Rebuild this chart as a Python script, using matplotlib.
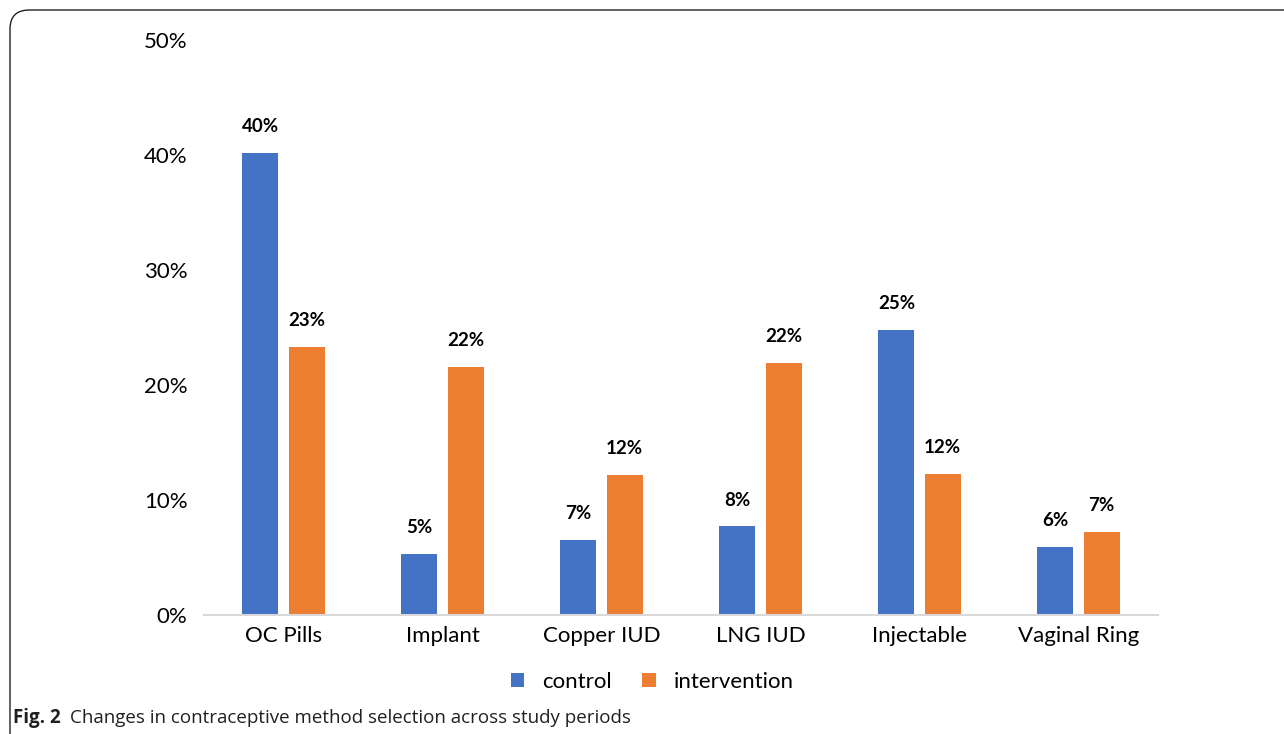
import numpy as np
import matplotlib.pyplot as plt
from matplotlib.patches import FancyBboxPatch

# data (percent)
methods = ['OC Pills', 'Implant', 'Copper IUD', 'LNG IUD', 'Injectable', 'Vaginal Ring']
control = [40.2, 5.3, 6.5, 7.7, 24.8, 5.9]
intervention = [23.3, 21.6, 12.2, 21.9, 12.3, 7.2]
control_labels = ['40%', '5%', '7%', '8%', '25%', '6%']
intervention_labels = ['23%', '22%', '12%', '22%', '12%', '7%']
yticks = [0, 10, 20, 30, 40, 50]

plt.rcParams['font.family'] = ['Lato', 'DejaVu Sans']

blue = '#4472C4'
orange = '#ED7D31'

fig = plt.figure(figsize=(12.84, 7.34), dpi=100)
W, H = 1284, 734
ax = fig.add_axes([204 / W, 1 - 615 / H, (1158 - 204) / W, (615 - 40) / H])

x = np.arange(len(methods))
bw = 0.226
off = 0.145
b1 = ax.bar(x - off, control, bw, color=blue, label='control')
b2 = ax.bar(x + off, intervention, bw, color=orange, label='intervention')

for bars, labels in [(b1, control_labels), (b2, intervention_labels)]:
    for rect, lab in zip(bars, labels):
        ax.annotate(lab, (rect.get_x() + rect.get_width() / 2, rect.get_height()),
                    xytext=(0, 19), textcoords='offset points', ha='center', va='center',
                    fontsize=13.5, fontweight='bold')

ax.set_xlim(-0.5, len(methods) - 0.5)
ax.set_ylim(0, 50)
ax.set_yticks(yticks)
ax.set_yticklabels([f'{t}%' for t in yticks], fontsize=16)
ax.set_xticks(x)
ax.set_xticklabels(methods, fontsize=16)
ax.tick_params(axis='both', length=0)
ax.tick_params(axis='y', pad=12)
ax.tick_params(axis='x', pad=8)
for s in ['top', 'right', 'left']:
    ax.spines[s].set_visible(False)
ax.spines['bottom'].set_color('#d9d9d9')
ax.spines['bottom'].set_linewidth(1.5)

fig.legend(handles=[b1, b2], loc='center', bbox_to_anchor=(652 / W, 1 - 682 / H),
           ncol=2, frameon=False, fontsize=16, handlelength=0.6, handleheight=0.6,
           columnspacing=1.4, handletextpad=0.8)

# page frame with rounded top-left corner
frame = FancyBboxPatch((10 / W, -0.05), 1.1, 1.05 - 10 / H,
                       boxstyle='round,pad=0,rounding_size=0.015',
                       transform=fig.transFigure, fill=False, ec='#222222', lw=1.0,
                       mutation_aspect=W / H)
fig.patches.append(frame)

fig.text(13 / W, 1 - 718 / H, 'Fig. 2', fontsize=13.5, fontweight='bold', va='center',
         color='#231f20', family=['Open Sans', 'DejaVu Sans'])
fig.text(70 / W, 1 - 718 / H, 'Changes in contraceptive method selection across study periods',
         fontsize=13.5, va='center', color='#231f20', family=['Open Sans', 'DejaVu Sans'])

fig.savefig('out.png', dpi=100)
